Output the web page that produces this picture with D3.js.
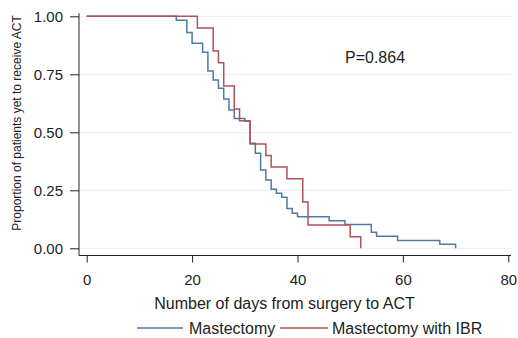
<!DOCTYPE html>
<html><head><meta charset="utf-8">
<script src="https://cdn.jsdelivr.net/npm/d3@7"></script>
<style>body{margin:0;background:#fff}svg{display:block}text{font-family:"Liberation Sans",Arial,sans-serif;fill:#222}</style>
</head><body><svg id="c" width="518" height="338"></svg>
<script>
const seriesNames = ["Mastectomy", "Mastectomy with IBR"];
const seriesColors = ["#5178a3", "#b4525c"];
const mastDays = [0, 17, 19, 20, 22, 23, 24, 25, 26, 27, 28, 30, 31, 32, 33, 34, 35, 36, 37, 38, 39, 40, 46, 49, 54, 55, 59, 67, 70];
const mastSurv = [1, 0.983, 0.93, 0.884, 0.845, 0.764, 0.725, 0.69, 0.644, 0.596, 0.56, 0.548, 0.453, 0.41, 0.337, 0.294, 0.254, 0.237, 0.22, 0.172, 0.151, 0.136, 0.119, 0.103, 0.069, 0.052, 0.034, 0.017, 0];
const ibrDays = [0, 21, 24, 25, 26, 28, 29, 31, 34, 35, 38, 41, 42, 50, 52];
const ibrSurv = [1, 0.95, 0.85, 0.80, 0.70, 0.60, 0.55, 0.45, 0.40, 0.35, 0.30, 0.20, 0.10, 0.05, 0];
const xTicks = [0, 20, 40, 60, 80];
const yTicks = [0, 0.25, 0.5, 0.75, 1];
const pText = "P=0.864";

const svg = d3.select("#c");
const x = d3.scaleLinear().domain([0, 80]).range([86.7, 508.3]);
const y = d3.scaleLinear().domain([0, 1]).range([248.3, 16.3]);

// gridlines
svg.append("g").selectAll("line").data(yTicks).join("line")
  .attr("x1", 80).attr("x2", 511)
  .attr("y1", d => y(d)).attr("y2", d => y(d))
  .attr("stroke", "#e8edf3").attr("stroke-width", 1);

// y axis
const ya = svg.append("g").attr("transform", "translate(79,0)")
  .call(d3.axisLeft(y).tickValues(yTicks).tickFormat(d3.format(".2f")).tickSize(9).tickPadding(7).tickSizeOuter(0));
ya.select(".domain").attr("d", `M0,${y(1)-3}V255.5`).attr("stroke", "#222");
ya.selectAll("text").style("font-size", "15px");
ya.selectAll(".tick line").attr("stroke", "#222");

// x axis
const xa = svg.append("g").attr("transform", "translate(0,255.5)")
  .call(d3.axisBottom(x).tickValues(xTicks).tickSize(7).tickPadding(12).tickSizeOuter(0));
xa.select(".domain").attr("d", "M79,0H511").attr("stroke", "#222");
xa.selectAll("text").style("font-size", "15px");
xa.selectAll(".tick line").attr("stroke", "#222");

// curves
const line = d3.line().x(d => x(d[0])).y(d => y(d[1])).curve(d3.curveStepAfter);
const series = [d3.zip(mastDays, mastSurv), d3.zip(ibrDays, ibrSurv)];
series.forEach((s, i) => {
  svg.append("path").datum(s).attr("d", line)
    .attr("fill", "none").attr("stroke", seriesColors[i]).attr("stroke-width", 1.5);
});

// labels
svg.append("text").attr("x", 284.5).attr("y", 309).attr("text-anchor", "middle")
  .style("font-size", "16px").text("Number of days from surgery to ACT");
svg.append("text").attr("transform", "translate(21,123) rotate(-90)").attr("text-anchor", "middle")
  .style("font-size", "12px").text("Proportion of patients yet to receive ACT");
svg.append("text").attr("x", 345).attr("y", 63).style("font-size", "16px").text(pText);

// legend
const leg = [{x1: 137, x2: 183, tx: 189}, {x1: 280, x2: 328, tx: 332}];
leg.forEach((l, i) => {
  svg.append("line").attr("x1", l.x1).attr("x2", l.x2).attr("y1", 328).attr("y2", 328)
    .attr("stroke", seriesColors[i]).attr("stroke-width", 1.5);
  svg.append("text").attr("x", l.tx).attr("y", 334).style("font-size", "16px").text(seriesNames[i]);
});
</script></body></html>
